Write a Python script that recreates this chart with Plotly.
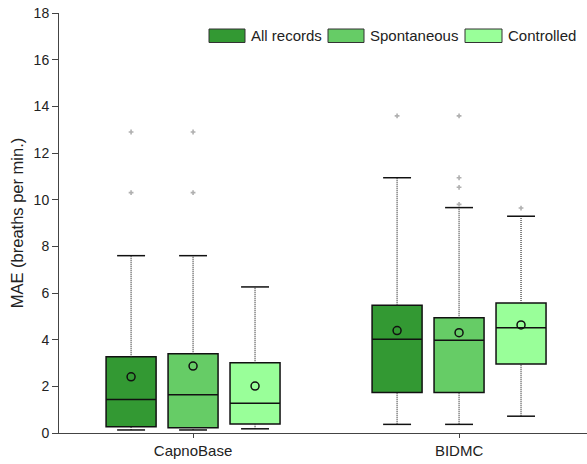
import plotly.graph_objects as go

# Summary statistics of the mean absolute error per dataset and recording type
datasets = ["CapnoBase", "BIDMC"]
groups = ["All records", "Spontaneous", "Controlled"]
colors = ["#339933", "#66cc66", "#99ff99"]

q1 = {
    "All records": [0.27, 1.74],
    "Spontaneous": [0.23, 1.74],
    "Controlled": [0.39, 2.96],
}
median = {
    "All records": [1.44, 4.02],
    "Spontaneous": [1.64, 3.97],
    "Controlled": [1.27, 4.51],
}
q3 = {
    "All records": [3.27, 5.47],
    "Spontaneous": [3.40, 4.94],
    "Controlled": [3.01, 5.57],
}
whisker_low = {
    "All records": [0.13, 0.37],
    "Spontaneous": [0.13, 0.37],
    "Controlled": [0.18, 0.72],
}
whisker_high = {
    "All records": [7.60, 10.94],
    "Spontaneous": [7.60, 9.66],
    "Controlled": [6.26, 9.29],
}
mean = {
    "All records": [2.41, 4.39],
    "Spontaneous": [2.87, 4.30],
    "Controlled": [2.01, 4.63],
}
outliers = {
    "All records": [[12.9, 10.3], [13.59]],
    "Spontaneous": [[12.9, 10.3], [13.59, 10.94, 10.53, 9.80]],
    "Controlled": [[], [9.64]],
}

offsets = [-0.233, 0.0, 0.233]
box_w = 0.188
cap_w = 0.105
font_family = "Liberation Sans, Arial, Helvetica, sans-serif"

fig = go.Figure()

for g, off, col in zip(groups, offsets, colors):
    xs = [i + off for i in range(len(datasets))]

    # dotted whiskers
    wx, wy = [], []
    for x, lo, a, b, hi in zip(xs, whisker_low[g], q1[g], q3[g], whisker_high[g]):
        wx += [x, x, None, x, x, None]
        wy += [lo, a, None, b, hi, None]
    fig.add_trace(go.Scatter(x=wx, y=wy, mode="lines", showlegend=False,
                             hoverinfo="skip",
                             line=dict(color="#333333", width=1.2, dash="1px,1px")))

    # whisker caps
    cx, cy = [], []
    for x, lo, hi in zip(xs, whisker_low[g], whisker_high[g]):
        cx += [x - cap_w / 2, x + cap_w / 2, None, x - cap_w / 2, x + cap_w / 2, None]
        cy += [lo, lo, None, hi, hi, None]
    fig.add_trace(go.Scatter(x=cx, y=cy, mode="lines", showlegend=False,
                             hoverinfo="skip",
                             line=dict(color="#111111", width=1.5)))

    # boxes with medians
    fig.add_trace(go.Box(
        name=g, x=xs, q1=q1[g], median=median[g], q3=q3[g],
        lowerfence=q1[g], upperfence=q3[g],
        width=box_w, whiskerwidth=0, boxpoints=False,
        fillcolor=col, line=dict(color="#111111", width=1.5),
        showlegend=False,
    ))

    # means
    fig.add_trace(go.Scatter(x=xs, y=mean[g], mode="markers", showlegend=False,
                             marker=dict(symbol="circle-open", size=8,
                                         color="#111111", line=dict(width=1.5))))

    # outliers
    ox, oy = [], []
    for x, vals in zip(xs, outliers[g]):
        ox += [x] * len(vals)
        oy += vals
    if ox:
        fig.add_trace(go.Scatter(x=ox, y=oy, mode="markers", showlegend=False,
                                 marker=dict(symbol="cross", size=4,
                                             color="#b0b0b0")))

# legend drawn in the upper right corner
W, H = 587, 464
ml, mr, mt, mb = 59, 0, 13, 31
pw, ph = W - ml - mr, H - mt - mb


def px(x):
    return (x - ml) / pw


def py(y):
    return (H - mb - y) / ph


legend_items = [(209, 245, 249), (328, 364, 368), (465, 502, 506)]
for (x0, x1, tx), g, col in zip(legend_items, groups, colors):
    fig.add_shape(type="rect", xref="paper", yref="paper",
                  x0=px(x0), x1=px(x1), y0=py(42.5), y1=py(29),
                  fillcolor=col, line=dict(color="#333333", width=1))
    fig.add_annotation(xref="paper", yref="paper", x=px(tx), y=py(35.5),
                       text=g, showarrow=False, xanchor="left", yanchor="middle",
                       font=dict(family=font_family, size=15, color="#222222"))

fig.update_layout(
    width=W, height=H,
    margin=dict(l=ml, r=mr, t=mt, b=mb),
    plot_bgcolor="white", paper_bgcolor="white",
    boxmode="overlay",
    font=dict(family=font_family, size=14, color="#222222"),
)
fig.update_xaxes(
    range=[-0.504, 1.481],
    tickvals=list(range(len(datasets))), ticktext=datasets,
    showline=True, linecolor="#444444", linewidth=1,
    ticks="outside", ticklen=4, tickcolor="#444444",
    tickfont=dict(size=15), showgrid=False, zeroline=False,
)
fig.update_yaxes(
    range=[0, 18], dtick=2,
    showline=True, linecolor="#444444", linewidth=1,
    ticks="outside", ticklen=6, tickcolor="#444444",
    tickfont=dict(size=14), showgrid=False, zeroline=False,
    title=dict(text="MAE (breaths per min.)", font=dict(size=16.5), standoff=5),
)

fig.write_html("out.html")
